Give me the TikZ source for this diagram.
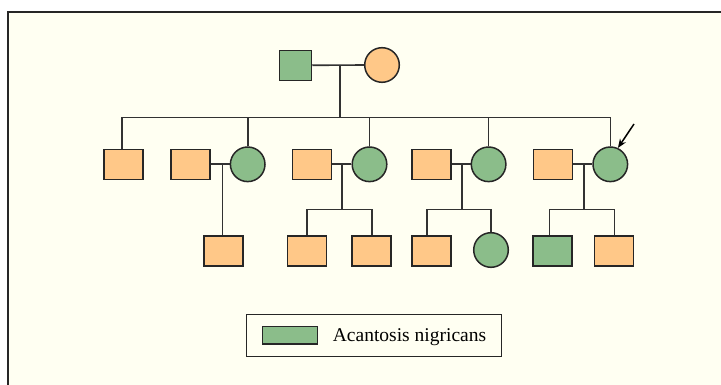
\documentclass[tikz,border=0pt]{standalone}
\usepackage{fontspec}
\setmainfont{Liberation Serif}
\usetikzlibrary{arrows.meta}
\definecolor{bgcream}{RGB}{255,255,242}
\definecolor{affgreen}{RGB}{139,189,138}
\definecolor{unorange}{RGB}{255,200,136}
\definecolor{linegray}{RGB}{50,50,50}
\tikzset{
  male/.style={rectangle, draw=black!85, line width=1.5pt, minimum width=39pt, minimum height=30pt, inner sep=0pt},
  female/.style={circle, draw=black!85, line width=1.5pt, minimum size=34.6pt, inner sep=0pt},
  aff/.style={fill=affgreen},
  unaff/.style={fill=unorange},
  link/.style={draw=linegray, line width=1.6pt},
}
\begin{document}
\begin{tikzpicture}[x=1pt,y=-1pt]
\useasboundingbox (0,0) rectangle (721,385);
\fill[white] (0,0) rectangle (721,385);
\fill[bgcream] (8,12) rectangle (721,385);
\draw[line width=2pt, draw=black!85] (8,390) -- (8,12) -- (730,12);

% generation I
\node[male, aff, minimum width=32pt] (f1) at (295.5,65.3) {};
\node[female, unaff] (m1) at (382,65) {};
% generation II
\node[male, unaff] (a) at (123.7,164.3) {};
\node[male, unaff] (b) at (190.7,164.3) {};
\node[female, aff] (c) at (247.7,164.3) {};
\node[male, unaff] (d) at (312,164.3) {};
\node[female, aff] (e) at (369.5,164.3) {};
\node[male, unaff] (g) at (431.7,164.3) {};
\node[female, aff] (h) at (488.6,164.3) {};
\node[male, unaff] (i) at (553,164.3) {};
\node[female, aff] (j) at (610.3,164.3) {};
% generation III
\node[male, unaff] (k) at (223.7,251) {};
\node[male, unaff] (l) at (307,251) {};
\node[male, unaff] (mm) at (371.7,251) {};
\node[male, unaff] (n) at (431.7,251) {};
\node[female, aff] (o) at (491,250) {};
\node[male, aff] (p) at (552.3,251) {};
\node[male, unaff] (q) at (614,251) {};

% helper coordinates
\coordinate (sibL) at (121.7,117.5);
\coordinate (sibR) at (610.3,117.5);
\coordinate (pdrop) at (340,65.3);
\coordinate (dropb) at (222.3,164.3);
\coordinate (dropd) at (342,164.3);
\coordinate (dropg) at (461.7,164.3);
\coordinate (dropi) at (584,164.3);
\coordinate (s2l) at (307,209.7);
\coordinate (s2r) at (371.7,209.7);
\coordinate (s3l) at (426.7,209.7);
\coordinate (s3r) at (491,209.7);
\coordinate (s4l) at (549.3,209.7);
\coordinate (s4r) at (614.3,209.7);

% generation I links
\draw[link] (f1.east) -- (m1.west);
\draw[link] (pdrop) -- (pdrop |- sibL);
\draw[link] (sibL) -- (sibR);
\draw[link] (sibL) -- (sibL |- a.north);
\draw[link] (c.north |- sibL) -- (c.north);
\draw[link] (e.north |- sibL) -- (e.north);
\draw[link] (h.north |- sibL) -- (h.north);
\draw[link] (j.north |- sibL) -- (j.north);

% couples
\draw[link] (b.east) -- (c.west);
\draw[link] (d.east) -- (e.west);
\draw[link] (g.east) -- (h.west);
\draw[link] (i.east) -- (j.west);

% descendants
\draw[link] (dropb) -- (dropb |- k.north);
\draw[link] (dropd) -- (dropd |- s2l);
\draw[link] (s2l |- l.north) -- (s2l) -- (s2r) -- (s2r |- mm.north);
\draw[link] (dropg) -- (dropg |- s3l);
\draw[link] (s3l |- n.north) -- (s3l) -- (s3r) -- (o.north);
\draw[link] (dropi) -- (dropi |- s4l);
\draw[link] (s4l |- p.north) -- (s4l) -- (s4r) -- (s4r |- q.north);

% proband arrow
\coordinate (arrtail) at (634,124);
\draw[line width=1.5pt, -{Stealth[length=9pt,width=7pt]}] (arrtail) -- (j.65);

% legend
\node[draw=black!85, line width=1.2pt, minimum width=255pt, minimum height=42.4pt, inner sep=0pt] (leg) at (374.2,335.5) {};
\node[rectangle, draw=black!85, line width=1.4pt, fill=affgreen, minimum width=55pt, minimum height=17.3pt, inner sep=0pt] (sw) at (289.8,335.3) {};
\node[anchor=base west, inner sep=0pt, font=\fontsize{19.5pt}{22pt}\selectfont] (lt) at (332.7,341.7) {Acantosis nigricans};
\end{tikzpicture}
\end{document}
